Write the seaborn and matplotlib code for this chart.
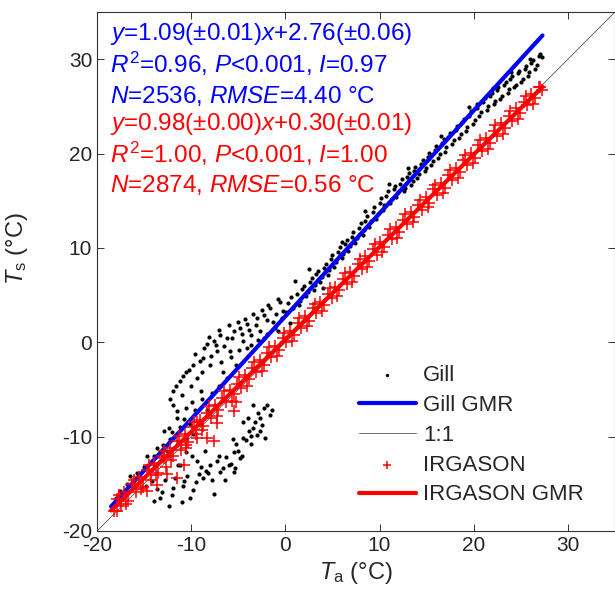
import numpy as np
import matplotlib
matplotlib.use('Agg')
import matplotlib.pyplot as plt
import seaborn as sns

# Gill sonic temperature vs air temperature
# cold part: points near the lines and the two side clouds
gill_cold_ta = [-18.0, -17.6, -17.2, -16.8, -16.5, -16.1, -15.8, -15.4, -15.0, -14.7, -14.3, -14.0, -13.6,
                -13.3, -13.0, -12.6, -12.3, -12.0,
                -13.5, -12.5, -11.5, -10.5, -9.8, -9.0, -8.3, -12.9, -11.9, -11.2, -10.8, -9.6, -8.8, -7.8,
                -7.0, -6.2, -12.4, -11.5,
                -6.0, -5.5, -5.2, -4.5, -3.9, -3.4, -3.0, -3.7, -4.8, -2.3, -1.6, -3.4, -2.7, -7.3, -8.0, -6.9,
                -8.7, -9.4, -10.5, -11.2, -7.6, -10.1, -12.4, -11.9, -13.3, -10.8, -5.5, -4.5, -2.7, -2.2,
                -14.8, -13.9, -13.1, -12.8, -10.9, -9.5, -8.2, -9.0, -11.4,
                -6.3, -5.8, -5.0, -4.6, -4.2, -3.6, -3.2, -2.9, -2.5, -1.9, -1.4, -4.0, -5.6, -6.6, -7.0, -7.8,
                -8.4, -9.2, -9.8, -10.4, -11.0, -11.7, -12.0, -13.6, -14.2, -6.4, -5.3, -8.5, -9.9,
                -11.9, -11.2, -10.5, -9.8, -9.4, -8.7, -8.3, -7.6, -8.0, -6.9, -7.3, -6.2, -5.9, -5.5, -4.8,
                -4.5, -5.2, -4.1, -3.7, -3.0, -2.7, -2.3, -1.6, -1.3, -0.6, -0.2, -9.0, -10.5, -11.5, -10.1,
                -11.9, -6.6, -4.1, -2.3,
                -11.6, -10.9, -10.2, -9.6, -9.1, -8.6, -8.1, -7.4, -7.0, -6.5, -6.0, -5.7, -5.0, -4.6, -4.3,
                -3.9, -3.4, -3.1, -2.5, -2.0, -1.8, -1.0, -0.8, -0.4, -10.0, -8.9, -7.9, -6.8, -5.8, -4.9,
                -3.6, -2.9, -2.0, -1.1, -12.2, -11.0, -9.9]
gill_cold_ts = [-16.5, -15.8, -16.2, -15.0, -14.2, -15.3, -13.9, -14.6, -13.2, -12.1, -13.5, -12.0, -11.2,
                -12.6, -10.9, -11.5, -10.2, -9.5,
                -12.8, -11.9, -10.9, -10.1, -9.7, -8.6, -7.2, -9.4, -10.1, -9.0, -8.1, -7.2, -6.0, -5.4,
                -4.6, -3.8, -9.1, -7.3,
                -13.0, -11.6, -10.8, -10.1, -9.4, -9.1, -9.8, -10.8, -12.3, -7.0, -7.7, -6.6, -8.0, -12.6,
                -13.0, -13.7, -14.4, -12.6, -11.6, -13.0, -16.1, -16.5, -17.4, -15.4, -16.5, -14.7, -13.7,
                -8.4, -9.4, -10.1,
                -15.2, -16.8, -15.9, -14.6, -15.2, -14.8, -13.9, -13.2, -13.0,
                -12.2, -12.9, -11.5, -12.0, -10.4, -9.9, -8.5, -7.5, -8.8, -6.6, -7.2, -8.0, -10.2, -13.3,
                -12.0, -14.6, -13.6, -14.0, -15.7, -14.2, -16.9, -14.4, -16.2, -15.6, -14.7, -14.6, -13.3,
                -11.5, -12.0,
                -5.2, -4.1, -3.1, -2.4, -3.8, -1.7, -0.2, 0.1, -2.4, 0.8, -0.9, 0.5, -0.9, 1.2, 1.5, 0.1,
                -2.4, 1.9, 0.8, 2.6, 1.2, 2.9, 3.6, 2.2, 4.3, 3.3, -5.2, -7.0, -8.0, -8.7, -6.6, -3.1, -0.6,
                0.5,
                -4.6, -3.6, -2.9, -1.2, -2.0, -0.6, 0.6, -0.3, 1.3, -0.4, 1.8, 0.4, 2.1, 0.9, 2.5, 1.3, 3.0,
                1.8, 3.4, 2.4, 4.0, 3.0, 4.6, 2.6, -4.6, -3.2, -1.5, -2.1, -1.6, -0.8, -0.3, 0.2, 0.9, 1.5,
                -6.0, -5.6, -6.3]

# warm part: the dense band
gill_warm_ta = [0.3, 0.8, 1.2, 1.6, 2.0, 2.4, 2.8, 3.1, 3.5, 3.9, 4.3, 4.6, 5.0, 5.4, 5.8, 6.1, 6.5, 6.9,
                7.2, 7.6, 8.0, 8.3, 8.7, 9.1, 9.4, 9.8, 10.2, 10.5, 10.9, 11.3, 11.6, 12.0, 12.4, 12.7, 13.1,
                13.5, 13.8, 14.2, 14.6, 14.9, 15.3, 15.7, 16.0, 16.4, 16.8, 17.1, 17.5, 17.9, 18.2, 18.6, 19.0,
                19.3, 19.7, 20.1, 20.4, 20.8, 21.2, 21.5, 21.9, 22.3, 22.6, 23.0, 23.4, 23.7, 24.1, 24.5, 24.8,
                25.2, 25.6, 25.9, 26.3, 26.7, 27.0, 27.2,
                1.0, 2.5, 4.0, 0.5, -0.8, 6.0, 8.5, 11.0, 13.0, 16.5, 19.5, 22.0, 24.0, 26.0,
                0.1, 0.6, 1.4, 1.8, 2.2, 2.6, 3.0, 3.3, 3.7, 4.1, 4.5, 4.8, 5.2, 5.6, 6.0, 6.3, 6.7, 7.1, 7.4,
                7.8, 8.2, 8.5, 8.9, 9.3, 9.6, 10.0, 10.4, 10.7, 11.1, 11.5, 11.8, 12.2, 12.6, 12.9, 13.3, 13.7,
                14.0, 14.4, 14.8, 15.1, 15.5, 15.9, 16.2, 16.6, 17.0, 17.3, 17.7, 18.1, 18.4, 18.8, 19.2, 19.5,
                19.9, 20.3, 20.6, 21.0, 21.4, 21.7, 22.1, 22.5, 22.8, 23.2, 23.6, 23.9, 24.3, 24.7, 25.0, 25.4,
                25.8, 26.1, 26.5, 26.9]
gill_warm_ts = [4.2, 3.6, 5.1, 4.4, 6.0, 5.3, 6.8, 6.1, 7.6, 6.9, 8.3, 7.7, 9.2, 8.5, 10.1, 9.4, 10.8, 10.2,
                11.7, 11.0, 12.6, 11.9, 13.4, 12.8, 14.3, 13.6, 15.3, 14.5, 16.0, 15.2, 16.6, 15.9, 17.3, 16.4,
                17.9, 17.1, 18.6, 17.8, 19.3, 18.5, 20.1, 19.2, 20.8, 19.9, 21.5, 20.7, 22.2, 21.4, 22.9, 22.1,
                23.7, 22.8, 24.5, 23.6, 25.3, 24.4, 25.9, 25.0, 26.4, 25.6, 27.0, 26.1, 27.6, 26.8, 28.2, 27.3,
                28.7, 27.9, 29.3, 28.6, 29.9, 29.4, 30.6, 30.2,
                6.5, 7.8, 5.8, 2.0, 1.2, 10.6, 13.9, 16.8, 18.5, 21.9, 24.9, 26.9, 28.6, 30.0,
                3.2, 4.8, 3.9, 5.6, 4.9, 6.4, 5.5, 7.2, 6.4, 7.9, 7.1, 8.8, 8.0, 9.6, 8.9, 10.4, 9.7, 11.2,
                10.5, 12.1, 11.4, 12.9, 12.2, 13.8, 13.1, 14.8, 14.0, 15.5, 14.8, 16.2, 15.4, 16.8, 16.0, 17.5,
                16.7, 18.2, 17.4, 18.9, 18.1, 19.6, 18.8, 20.4, 19.5, 21.1, 20.2, 21.8, 21.0, 22.5, 21.7, 23.3,
                22.4, 24.0, 23.1, 24.8, 24.0, 25.5, 24.6, 26.1, 25.2, 26.7, 25.8, 27.3, 26.4, 27.9, 27.0, 28.5,
                27.6, 29.0, 28.2, 29.6, 29.0, 30.3]

# IRGASON sonic temperature vs air temperature
irg_ta = [-18.2, -17.9, -17.5, -17.1, -16.7, -16.3, -15.9, -15.5, -15.1, -14.7, -14.3, -13.9, -13.5, -13.1,
          -12.7, -12.3, -11.9, -11.5, -11.1, -10.7, -10.3, -9.9, -9.5, -9.1, -8.7, -8.3, -7.9, -7.5, -7.1,
          -6.7, -6.3, -5.9, -5.5,
          -9.4, -8.3, -7.6, -9.4, -7.3, -5.5, -5.2, -12.9, -11.5, -14.7, -17.9, -10.5, -10.8, -12.6, -13.6,
          -5.1, -4.7, -4.3, -3.9, -3.5, -3.1, -2.7, -2.3, -1.9, -1.5, -1.1, -0.7, -0.3, 0.1, 0.5, 0.9, 1.3,
          1.7, 2.1, 2.5, 2.9, 3.3, 3.7, 4.1, 4.5, 4.9, 5.3, 5.7, 6.1, 6.5, 6.9, 7.3, 7.7, 8.1, 8.5, 8.9, 9.3,
          9.7, 10.1, 10.5, 10.9, 11.3, 11.7, 12.1, 12.5, 12.9, 13.3, 13.7, 14.1, 14.5, 14.9, 15.3, 15.7, 16.1,
          16.5, 16.9, 17.3, 17.7, 18.1, 18.5, 18.9, 19.3, 19.7, 20.1, 20.5, 20.9, 21.3, 21.7, 22.1, 22.5,
          22.9, 23.3, 23.7, 24.1, 24.5, 24.9, 25.3, 25.7, 26.1, 26.5, 26.9, 27.2,
          -17.7, -16.9, -16.1, -15.3, -14.5, -13.7, -12.9, -12.1, -11.3, -10.5, -9.7, -8.9, -8.1, -7.3, -6.5,
          -5.7, -4.9, -4.1, -3.3, -2.5, -1.7, -0.9, -0.1, 0.7, 1.5, 2.3, 3.1, 3.9, 4.7, 5.5, 6.3, 7.1, 7.9,
          8.7, 9.5, 10.3, 11.1, 11.9, 12.7, 13.5, 14.3, 15.1, 15.9, 16.7, 17.5, 18.3, 19.1, 19.9, 20.7, 21.5,
          22.3, 23.1, 23.9, 24.7, 25.5, 26.3, 27.0]
irg_ts = [-17.9, -16.6, -17.4, -15.9, -16.8, -15.0, -15.9, -14.3, -15.3, -13.5, -14.6, -12.8, -13.9, -12.0,
          -13.2, -11.2, -12.0, -10.5, -11.4, -9.7, -10.6, -9.0, -9.7, -8.2, -8.9, -7.5, -8.0, -6.7, -7.2,
          -5.9, -6.3, -5.1, -5.5,
          -10.1, -10.1, -10.5, -8.4, -8.6, -7.3, -6.3, -12.3, -14.4, -15.8, -17.9, -11.2, -13.0, -14.0, -15.1,
          -4.4, -4.8, -3.5, -3.9, -2.7, -3.1, -1.9, -2.4, -1.1, -1.6, -0.4, -0.8, 0.4, 0.0, 1.2, 0.8, 2.0,
          1.5, 2.8, 2.3, 3.6, 3.1, 4.3, 3.9, 5.1, 4.7, 5.9, 5.5, 6.7, 6.2, 7.5, 7.0, 8.3, 7.8, 9.1, 8.6, 9.9,
          9.3, 10.6, 10.1, 11.4, 10.9, 12.2, 11.7, 13.0, 12.5, 13.8, 13.3, 14.6, 14.0, 15.4, 14.8, 16.2, 15.6,
          16.9, 16.4, 17.7, 17.2, 18.5, 18.0, 19.3, 18.8, 20.1, 19.5, 20.9, 20.3, 21.6, 21.1, 22.4, 21.9,
          23.2, 22.7, 24.0, 23.5, 24.8, 24.3, 25.5, 25.1, 26.3, 25.9, 27.0, 26.7,
          -16.2, -17.1, -14.6, -15.6, -13.0, -14.1, -11.5, -12.5, -9.9, -10.9, -8.4, -9.3, -6.8, -7.8, -5.2,
          -6.2, -3.7, -4.6, -2.1, -3.0, -0.5, -1.5, 1.0, 0.1, 2.6, 1.7, 4.1, 3.3, 5.7, 4.9, 7.3, 6.4, 8.8,
          8.0, 10.4, 9.6, 12.0, 11.1, 13.6, 12.7, 15.1, 14.3, 16.7, 15.8, 18.3, 17.4, 19.8, 19.0, 21.4, 20.5,
          23.0, 22.1, 24.5, 23.7, 26.1, 25.3, 27.0]

# GMR fits
gill_slope, gill_icpt = 1.09, 2.76
irg_slope, irg_icpt = 0.98, 0.30
fit_range = [-18.5, 27.3]

gill_ta = gill_cold_ta + gill_warm_ta
gill_ts = gill_cold_ts + gill_warm_ts

sns.set_style('ticks')
plt.rcParams['font.family'] = ['Liberation Sans', 'DejaVu Sans']
plt.rcParams['mathtext.fontset'] = 'custom'
plt.rcParams['mathtext.rm'] = 'Liberation Sans'
plt.rcParams['mathtext.it'] = 'Liberation Sans:italic'
plt.rcParams['axes.unicode_minus'] = False

fig = plt.figure(figsize=(6.15, 5.95), dpi=100)
ax = fig.add_axes([97/615, 64/595, 518/615, 519/595])

sns.scatterplot(x=gill_ta, y=gill_ts, ax=ax, color='k', marker='o', s=9, linewidth=0, label='Gill', zorder=2)
xs = np.array(fit_range)
sns.lineplot(x=xs, y=gill_slope*xs + gill_icpt, ax=ax, color='#0000ff', lw=3, label='Gill GMR', zorder=3)
sns.lineplot(x=[-20, 35], y=[-20, 35], ax=ax, color='#555555', lw=0.6, label='1:1', zorder=1)
sns.scatterplot(x=irg_ta, y=irg_ts, ax=ax, color='#ff0000', marker='+', s=65, linewidth=1.1,
                label='IRGASON', zorder=4)
sns.lineplot(x=xs, y=irg_slope*xs + irg_icpt, ax=ax, color='#ff0000', lw=3, label='IRGASON GMR', zorder=5)

ax.set_xlim(-20, 35)
ax.set_ylim(-20, 35)
ax.set_xticks(np.arange(-20, 31, 10))
ax.set_yticks(np.arange(-20, 31, 10))
ax.tick_params(direction='in', top=True, right=True, labelsize=15, length=5, width=0.7, color='#333333')
for s in ax.spines.values():
    s.set_visible(True)
    s.set_linewidth(0.8)
    s.set_color('#333333')

ax.set_xlabel(r'$T_\mathrm{a}$ (°C)', fontsize=17, labelpad=4)
ax.set_ylabel(r'$T_\mathrm{s}$ (°C)', fontsize=17)
ax.yaxis.set_label_coords(-0.13, 0.545)

blue_txt = [r'$y$=1.09(±0.01)$x$+2.76(±0.06)',
            r'$R^2$=0.96, $P$<0.001, $I$=0.97',
            r'$N$=2536, $RMSE$=4.40 °C']
red_txt = [r'$y$=0.98(±0.00)$x$+0.30(±0.01)',
           r'$R^2$=1.00, $P$<0.001, $I$=1.00',
           r'$N$=2874, $RMSE$=0.56 °C']
ys = [0.958, 0.900, 0.838, 0.784, 0.726, 0.667]
for t, yy in zip(blue_txt, ys[:3]):
    ax.text(0.025, yy, t, transform=ax.transAxes, color='#0000ff', fontsize=17.5, va='center')
for t, yy in zip(red_txt, ys[3:]):
    ax.text(0.025, yy, t, transform=ax.transAxes, color='#ff0000', fontsize=17.5, va='center')

leg = ax.legend(loc='upper left', bbox_to_anchor=(0.505, 0.32), frameon=False, fontsize=16,
                handlelength=2.6, handletextpad=0.3, labelspacing=0.4, borderpad=0, borderaxespad=0,
                markerscale=0.8)

fig.savefig('out.png', dpi=100)
